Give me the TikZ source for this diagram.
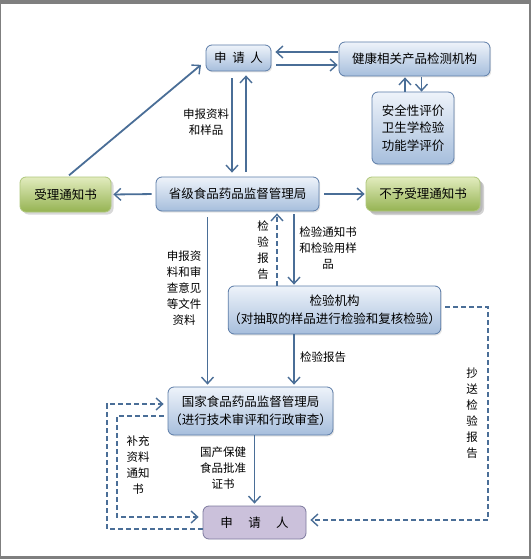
\documentclass[tikz,border=0pt]{standalone}
\usepackage{fontspec}
\setmainfont{Noto Sans CJK SC}
\usetikzlibrary{arrows.meta,shadows,calc}
\definecolor{ac}{HTML}{4A6E97}
\definecolor{bborder}{HTML}{5D7DA8}
\definecolor{btop}{HTML}{EEF3FA}
\definecolor{bbot}{HTML}{A6BEDC}
\definecolor{gtop}{HTML}{E2ECBE}
\definecolor{gbot}{HTML}{95B352}
\definecolor{gborder}{HTML}{AFC77C}
\definecolor{pfill}{HTML}{CBC1DB}
\definecolor{pborder}{HTML}{7D7A9E}
\definecolor{frame}{HTML}{7F7F7F}
\tikzset{
  box/.style={rounded corners=6pt, align=center, inner sep=0pt, text=black,
    font=\fontsize{12.5}{17.5}\selectfont},
  bbox/.style={box, draw=bborder, line width=0.8pt, top color=btop, bottom color=bbot,
    drop shadow={shadow xshift=1.2pt, shadow yshift=-1.5pt, opacity=0.2}},
  gbox/.style={box, draw=gborder, line width=0.8pt, top color=gtop, bottom color=gbot,
    drop shadow={shadow xshift=2.5pt, shadow yshift=-2.5pt, opacity=0.3}},
  pbox/.style={box, draw=pborder, line width=0.8pt, fill=pfill},
  arr/.style={draw=ac, line width=1.8pt, -{Straight Barb[length=6.5pt,width=12pt,line width=1.4pt]}},
  dsh/.style={dash pattern=on 5pt off 3pt},
  lbl/.style={align=center, inner sep=0pt, text=black, font=\fontsize{11.5}{16}\selectfont},
}
\begin{document}
\begin{tikzpicture}[x=1pt,y=-1pt]
\fill[frame] (0,0) rectangle (531,559);
\fill[white] (1,4) rectangle (529,556);
\useasboundingbox (0,0) rectangle (531,559);

% nodes
\node[bbox, minimum width=65pt, minimum height=26pt] (sq) at (238.5,58) {申\ \ 请\ \ 人};
\node[bbox, minimum width=151pt, minimum height=34pt] (jk) at (414.5,59) {健康相关产品检测机构};
\node[bbox, minimum width=82pt, minimum height=72pt] (aq) at (413,128) {安全性评价\\卫生学检验\\功能学评价};
\node[gbox, minimum width=91pt, minimum height=35pt] (sl) at (65.5,194.5) {受理通知书};
\node[bbox, minimum width=163pt, minimum height=34pt] (sj) at (237.5,194) {省级食品药品监督管理局};
\node[gbox, minimum width=114pt, minimum height=34pt, drop shadow={shadow xshift=4pt, shadow yshift=-4pt, opacity=0.35}] (by) at (423,194) {不予受理通知书};
\node[bbox, minimum width=207pt, minimum height=48pt] (jy) at (334.5,310) {检验机构\\（对抽取的样品进行检验和复核检验）};
\node[bbox, minimum width=165pt, minimum height=48pt] (gj) at (250.5,411) {国家食品药品监督管理局\\（进行技术审评和行政审查）};
\node[pbox, minimum width=103pt, minimum height=33pt] (sr) at (254.5,522.5) {申\quad\ 请\quad\ 人};

% top arrows
\draw[arr, shorten <=1pt, shorten >=4pt] ([yshift=6pt]jk.west |- sq.east) -- ([yshift=6pt]sq.east);
\draw[arr, shorten <=5pt, shorten >=1pt] ([yshift=-7pt]sq.east) -- ([yshift=-7pt]sq.east -| jk.west);
\draw[arr, shorten >=1pt] ([xshift=-8pt]aq.north) -- ([xshift=-8pt]aq.north |- jk.south);
\draw[arr, shorten <=1pt] ([xshift=7pt]jk.south) -- ([xshift=7pt]jk.south |- aq.north);

\draw[arr, shorten <=7pt, shorten >=4pt] ([xshift=-6.5pt]sq.south) -- ([xshift=-6.5pt]sq.south |- sj.north);
\draw[arr, shorten <=5pt, shorten >=4pt] ([xshift=8.5pt]sj.north) -- ([xshift=8.5pt]sj.north |- sq.south);
\node[lbl] (l1) at (206,122) {申报资料\\和样品};

\draw[arr, shorten <=2pt, shorten >=6pt] ([xshift=2pt]sl.north) -- ([yshift=-3pt]sq.west);
\draw[arr, shorten <=4pt, shorten >=2pt] (sj.west) -- (sl.east);
\draw[arr, shorten <=5pt, shorten >=1pt] (sj.east) -- (by.west);

% middle
\draw[arr, shorten <=6pt, shorten >=2pt] ([xshift=-30pt]sj.south) -- ([xshift=-30pt]sj.south |- gj.north);
\node[lbl] (l2) at (184,288) {申报资\\料和审\\查意见\\等文件\\资料};

\draw[arr, dsh, shorten >=2pt] ([xshift=-57.5pt]jy.north) -- ([xshift=-57.5pt]jy.north |- sj.south);
\node[lbl] (l3) at (263,250) {检\\验\\报\\告};

\draw[arr, shorten <=3pt, shorten >=1pt] ([xshift=56.5pt]sj.south) -- ([xshift=56.5pt]sj.south |- jy.north);
\node[lbl] (l4) at (328,248) {检验通知书\\和检验用样\\品};

\draw[arr, shorten >=2pt] ([xshift=-40.5pt]jy.south) -- ([xshift=-40.5pt]jy.south |- gj.north);
\node[lbl, anchor=west] (l5) at (300,357) {检验报告};

% right dashed
\coordinate (rc) at (488,520);
\draw[arr, dsh, shorten >=4pt] ([xshift=4pt,yshift=3pt]jy.east) -| (rc) -- (rc -| sr.east);
\node[lbl] (l6) at (472,413) {抄\\送\\检\\验\\报\\告};

% bottom
\draw[arr, shorten >=2pt] (sr.north |- gj.south) -- (sr.north);
\node[lbl] (l7) at (223,468) {国产保健\\食品批准\\证书};

\coordinate (la) at (107,529);
\coordinate (lb) at (117,416);
\draw[arr, dsh, shorten >=4pt] ([yshift=-6.5pt]sr.west) -- ([yshift=-6.5pt]sr.west -| la) |- ([yshift=7pt]gj.west);
\draw[arr, dsh, shorten <=4pt, shorten >=4pt] ([yshift=-5pt]gj.west) -- ([yshift=-5pt]gj.west -| lb) |- ([yshift=5.5pt]sr.west);
\node[lbl] (l8) at (138,465) {补充\\资料\\通知\\书};
\end{tikzpicture}
\end{document}
